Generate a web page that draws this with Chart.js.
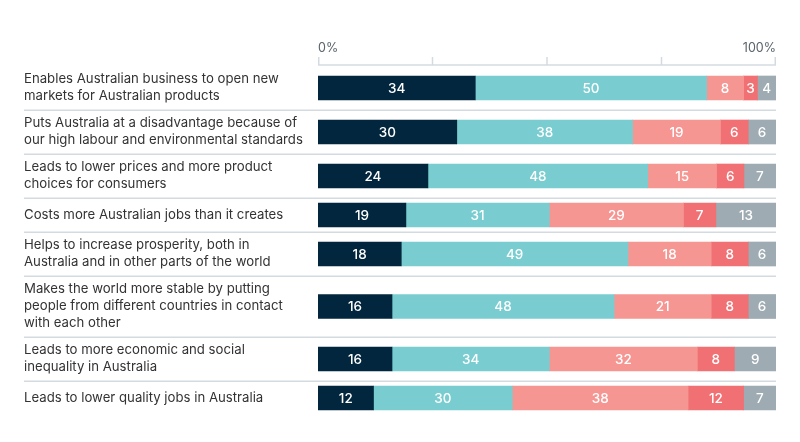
<!DOCTYPE html>
<html>
<head>
<meta charset="utf-8">
<script src="https://cdn.jsdelivr.net/npm/chart.js@4"></script>
<style>
html,body{margin:0;padding:0;background:#fff;}
#wrap{width:800px;height:442px;position:relative;}
</style>
</head>
<body>
<div id="wrap"><canvas id="c"></canvas></div>
<script>
const categories = [
  ["Enables Australian business to open new", "markets for Australian products"],
  ["Puts Australia at a disadvantage because of", "our high labour and environmental standards"],
  ["Leads to lower prices and more product", "choices for consumers"],
  ["Costs more Australian jobs than it creates"],
  ["Helps to increase prosperity, both in", "Australia and in other parts of the world"],
  ["Makes the world more stable by putting", "people from different countries in contact", "with each other"],
  ["Leads to more economic and social", "inequality in Australia"],
  ["Leads to lower quality jobs in Australia"]
];
const series1 = [34, 30, 24, 19, 18, 16, 16, 12];
const series2 = [50, 38, 48, 31, 49, 48, 34, 30];
const series3 = [8, 19, 15, 29, 18, 21, 32, 38];
const series4 = [3, 6, 6, 7, 8, 8, 8, 12];
const series5 = [4, 6, 7, 13, 6, 6, 9, 7];
const xTickLabels = ["0%", "", "", "", "100%"];

const seriesList = [series1, series2, series3, series4, series5];
const colors = ["#02263d", "#79cdd0", "#f69692", "#f07073", "#9eabb2"];

const BAR = 24, LINE = 17, PAD = 10;
const rowSizes = categories.map(l => Math.max(BAR, l.length * LINE) + PAD);
const bounds = [0];
rowSizes.forEach(s => bounds.push(bounds[bounds.length - 1] + s));
const centers = rowSizes.map((s, i) => bounds[i] + s / 2);
const total = bounds[bounds.length - 1];
const rowSums = categories.map((_, i) => seriesList.reduce((a, s) => a + s[i], 0));

const datasets = seriesList.map((s, k) => ({
  data: s.map((v, i) => ({ x: v / rowSums[i] * 100, y: centers[i] })),
  raw: s,
  backgroundColor: colors[k],
  borderWidth: 0,
  barThickness: BAR
}));

const FONT = "Inter, 'Noto Sans', sans-serif";

const deco = {
  id: 'deco',
  afterDatasetsDraw(chart) {
    const ctx = chart.ctx;
    const xs = chart.scales.x, ys = chart.scales.y;
    const ca = chart.chartArea;
    ctx.save();
    // value labels
    ctx.font = "500 13.5px " + FONT;
    ctx.fillStyle = "#ffffff";
    ctx.textAlign = "center";
    ctx.textBaseline = "middle";
    chart.data.datasets.forEach((ds, k) => {
      const meta = chart.getDatasetMeta(k);
      meta.data.forEach((el, i) => {
        const cx = (el.x + el.base) / 2;
        ctx.fillText(String(ds.raw[i]), cx, el.y + 0.5);
      });
    });
    // separators
    ctx.strokeStyle = "#d3dbe1";
    ctx.lineWidth = 1.5;
    for (let i = 1; i < bounds.length - 1; i++) {
      const y = Math.round(ys.getPixelForValue(bounds[i])) + 0.25;
      ctx.beginPath();
      ctx.moveTo(24, y);
      ctx.lineTo(ca.right, y);
      ctx.stroke();
    }
    // category labels
    ctx.font = "13.2px " + FONT;
    ctx.fillStyle = "#333333";
    ctx.textAlign = "left";
    categories.forEach((lines, i) => {
      const cy = ys.getPixelForValue(centers[i]);
      const start = cy - (lines.length - 1) * LINE / 2;
      lines.forEach((t, j) => ctx.fillText(t, 24, start + j * LINE));
    });
    // header axis
    const axisY = ca.top - 1;
    ctx.strokeStyle = "#d3dbe1";
    ctx.lineWidth = 1.5;
    ctx.beginPath();
    ctx.moveTo(xs.getPixelForValue(0), axisY);
    ctx.lineTo(xs.getPixelForValue(100), axisY);
    ctx.stroke();
    xTickLabels.forEach((lab, i) => {
      const v = i * 25;
      const x = xs.getPixelForValue(v) + (i === 0 ? 0.75 : i === 4 ? -0.75 : 0);
      ctx.beginPath();
      ctx.moveTo(x, axisY);
      ctx.lineTo(x, axisY - 8);
      ctx.stroke();
    });
    ctx.font = "12.5px " + FONT;
    ctx.fillStyle = "#59636b";
    xTickLabels.forEach((lab, i) => {
      if (!lab) return;
      const x = xs.getPixelForValue(i * 25);
      ctx.textAlign = i === 0 ? "left" : "right";
      ctx.fillText(lab, x, axisY - 17);
    });
    ctx.restore();
  }
};

new Chart(document.getElementById('c'), {
  type: 'bar',
  data: { datasets },
  options: {
    indexAxis: 'y',
    responsive: true,
    maintainAspectRatio: false,
    animation: false,
    layout: { padding: { left: 318, right: 24, top: 66, bottom: 27 } },
    scales: {
      x: { type: 'linear', min: 0, max: 100, stacked: true, display: false, offset: false },
      y: { type: 'linear', min: 0, max: total, reverse: true, stacked: true, display: false, offset: false }
    },
    plugins: { legend: { display: false }, tooltip: { enabled: false } }
  },
  plugins: [deco]
});
</script>
</body>
</html>
